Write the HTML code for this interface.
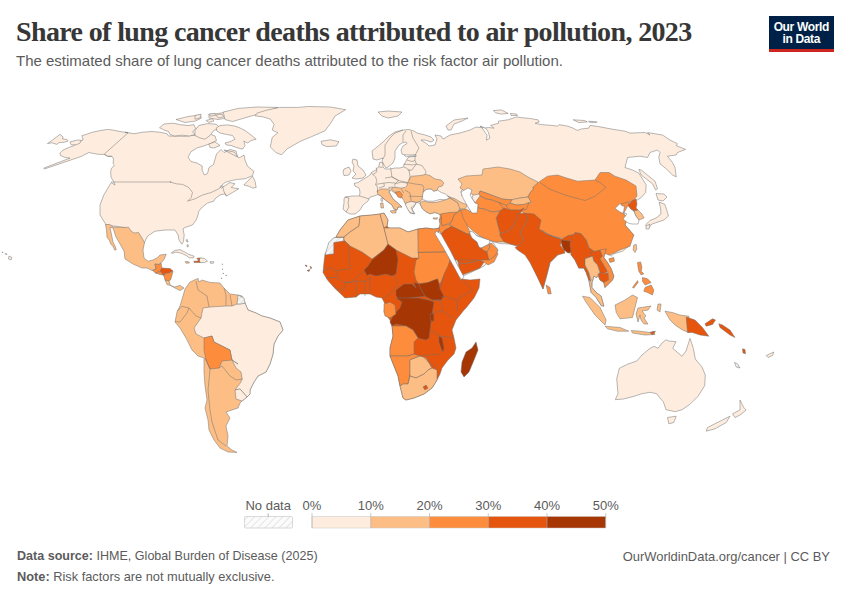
<!DOCTYPE html>
<html><head><meta charset="utf-8">
<style>
html,body{margin:0;padding:0;background:#fff;}
body{width:850px;height:600px;position:relative;overflow:hidden;font-family:"Liberation Sans",sans-serif;}
.t{position:absolute;white-space:nowrap;}
#title{left:16px;top:15.5px;font-family:"Liberation Serif",serif;font-weight:bold;font-size:28px;letter-spacing:-0.63px;color:#373737;}
#sub{left:16px;top:52px;font-size:15px;color:#5b5b5b;}
#logo{position:absolute;left:769px;top:16px;width:64.6px;height:35.6px;background:#002147;}
#logo .bar{position:absolute;left:0;bottom:0;width:64.6px;height:3px;background:#ce261e;}
#logo .lt{position:absolute;left:0;top:5px;width:64.6px;text-align:center;color:#fff;font-weight:bold;font-size:12px;line-height:12.2px;letter-spacing:-0.35px;}
.f{font-size:12px;color:#5b5b5b;}
.lg{font-size:13px;color:#5b5b5b;}
</style></head><body>
<div class="t" id="title">Share of lung cancer deaths attributed to air pollution, 2023</div>
<div class="t" id="sub">The estimated share of lung cancer deaths attributed to the risk factor air pollution.</div>
<div id="logo"><div class="lt">Our World<br>in Data</div><div class="bar"></div></div>
<svg style="position:absolute;left:0;top:0" width="850" height="600" viewBox="0 0 850 600">
<defs><pattern id="hatchm" patternUnits="userSpaceOnUse" width="4" height="4" patternTransform="rotate(45)"><rect width="4" height="4" fill="#f4f4f4"/><line x1="0" y1="0" x2="0" y2="4" stroke="#dcdcdc" stroke-width="1.5"/></pattern></defs>
<g stroke="#707070" stroke-width="0.5" stroke-linejoin="round">
<polygon fill="#feedde" points="128.1,132.8 120.0,131.5 112.5,130.0 107.5,129.4 100.0,130.6 92.5,132.2 86.2,134.4 81.9,135.6 83.1,140.0 78.8,141.9 73.8,145.6 68.8,147.5 63.1,150.0 60.0,153.1 60.6,155.6 65.0,157.5 70.0,158.1 43.8,168.1 44.4,169.0 72.5,159.4 81.2,156.5 88.8,152.5 93.8,153.5 98.8,154.4 104.0,154.4 107.5,156.0 111.9,156.2 113.5,158.8 113.1,163.8 114.4,165.0 111.2,168.8 110.6,172.5 111.2,177.5 113.8,181.9 115.0,185.0 111.2,182.5 103.8,195.0 100.0,205.0 100.0,215.0 106.2,225.0 115.0,226.2 125.0,227.5 128.8,232.5 136.2,236.2 143.8,243.8 147.5,236.2 155.0,231.2 165.0,230.0 175.0,230.0 178.2,235.0 179.0,240.0 181.8,244.2 183.5,241.5 184.2,235.0 183.0,228.8 185.0,227.5 192.5,225.0 196.2,220.0 198.0,215.0 198.8,211.2 202.5,206.9 207.5,203.1 213.8,201.2 215.0,198.8 220.0,195.0 225.0,193.8 226.2,196.2 232.5,192.5 238.8,188.8 231.2,187.5 235.0,183.8 230.0,182.5 221.2,188.1 220.0,186.9 225.0,182.5 231.2,180.6 237.5,179.4 245.0,178.8 252.5,175.6 253.8,171.2 247.5,166.2 245.0,160.0 244.0,155.0 239.0,158.0 234.0,152.0 224.0,150.0 237.5,157.0 236.0,151.0 230.0,149.5 224.0,152.5 221.0,149.5 216.5,154.0 213.5,164.5 209.0,167.5 207.5,173.5 204.5,175.0 202.2,170.5 202.2,166.0 197.0,163.0 191.0,161.5 188.0,157.0 191.0,151.7 197.0,148.0 204.5,145.7 210.5,143.5 216.5,140.5 215.0,136.0 207.5,133.0 203.0,135.2 198.5,134.8 185.0,136.3 168.5,136.0 167.0,133.7 159.5,132.2 152.0,131.5 143.0,132.2 134.0,133.7 125.0,132.2"/>
<polygon fill="#feedde" points="47.5,143.5 52.5,140.0 60.0,134.4 63.1,136.9 62.5,139.0 66.9,139.4 68.1,141.0 64.4,142.2 58.8,142.8 56.9,144.4 51.9,142.8"/>
<polygon fill="#feedde" points="70.0,141.9 77.5,140.0 81.2,140.2 80.0,143.1 76.2,144.8 71.2,144.8"/>
<polygon fill="#feedde" points="159.5,127.7 164.0,124.0 173.0,123.2 180.5,124.7 188.0,125.5 194.0,124.7 195.5,128.5 192.5,132.2 195.5,134.5 189.5,136.0 182.0,135.2 174.5,136.0 170.0,134.5 168.5,131.5 164.0,130.0"/>
<polygon fill="#feedde" points="197.0,127.7 201.5,125.5 207.5,124.7 209.0,127.7 206.0,130.7 200.0,131.5 198.5,133.0"/>
<polygon fill="#feedde" points="176.0,119.5 188.0,116.5 200.0,115.0 201.5,118.0 195.5,121.0 185.0,122.5"/>
<polygon fill="#feedde" points="209.0,114.2 218.0,113.5 227.0,112.0 230.0,115.0 227.0,118.0 218.0,119.5 209.0,118.0"/>
<polygon fill="#feedde" points="195.0,115.5 201.2,114.2 200.0,118.0 195.0,119.2"/>
<polygon fill="#feedde" points="206.2,120.5 212.5,118.6 213.8,121.1 208.8,122.4"/>
<polygon fill="#feedde" points="208.8,114.2 215.0,113.6 215.6,115.5 210.0,116.1"/>
<polygon fill="#feedde" points="216.2,114.9 221.9,114.2 223.8,116.8 218.1,118.0"/>
<polygon fill="#feedde" points="198.8,125.5 207.5,123.6 216.2,124.2 220.0,128.0 213.8,130.5 210.0,135.5 205.0,139.2 200.0,138.0 195.0,135.5 195.0,130.5"/>
<polygon fill="#feedde" points="208.8,144.2 215.0,141.8 220.0,145.5 213.8,148.0 210.0,147.4"/>
<polygon fill="#feedde" points="216.2,128.0 220.0,125.5 227.5,124.9 235.0,126.1 240.0,128.0 245.0,130.5 250.0,134.2 256.2,139.2 251.2,140.5 247.5,143.0 243.8,141.1 245.0,145.5 242.5,149.2 236.2,147.4 231.2,145.5 226.2,144.9 225.0,143.0 230.0,141.8 235.0,139.2 232.5,135.5 225.0,134.2 220.0,133.0 216.9,131.1"/>
<polygon fill="#feedde" points="223.2,112.1 238.3,108.4 257.1,107.0 277.8,107.4 266.5,112.1 251.5,115.9 242.1,118.7 232.6,121.5 225.1,119.6"/>
<polygon fill="#feedde" points="255.2,115.9 262.8,116.8 270.3,119.1 274.1,124.4 272.2,130.0 277.8,132.8 272.2,137.5 270.3,146.9 275.9,152.6 281.6,154.8 287.2,148.8 300.4,141.3 311.7,136.6 324.9,130.9 330.5,123.4 335.2,115.9 345.6,109.7 330.5,107.0 307.9,106.5 298.5,107.4 279.7,107.4 266.5,110.2 257.1,113.1"/>
<polygon fill="#feedde" points="321.1,141.3 330.5,139.8 339.0,141.7 336.2,146.0 326.8,146.6 322.1,144.7"/>
<polygon fill="#feedde" points="243.8,185.0 248.8,180.0 252.5,176.2 255.0,181.2 256.2,187.5 252.5,188.1 248.8,186.2"/>
<polygon fill="#fdbe85" points="105.5,224.5 110.0,224.5 113.0,227.0 124.0,227.5 128.5,227.2 131.0,231.0 134.0,233.0 138.5,232.5 142.0,238.0 144.5,242.5 143.0,250.0 144.0,258.0 148.0,261.2 153.0,260.0 157.5,257.5 160.0,255.0 166.2,254.2 164.0,259.5 161.5,262.5 159.0,264.5 155.0,264.0 156.0,269.0 152.0,270.5 147.0,268.0 142.0,268.0 133.0,264.0 125.0,259.0 124.0,251.0 120.0,244.0 116.0,237.0 113.0,228.0 110.0,227.5 112.0,237.0 113.0,242.0 115.0,246.0 116.2,249.8 114.8,250.2 112.8,246.2 110.8,244.0 109.2,240.0 107.0,237.5 106.5,230.0"/>
<polygon fill="#fd8d3c" points="155.0,264.0 159.0,264.5 161.0,263.0 162.0,268.0 160.5,271.0 158.0,272.0 155.5,273.0 152.5,270.5 156.0,269.0"/>
<polygon fill="#e6550d" points="160.0,271.0 162.0,268.0 170.0,268.5 173.0,271.0 169.0,273.0 165.0,273.5 164.0,276.0"/>
<polygon fill="#fd8d3c" points="155.5,273.0 158.0,272.0 160.5,271.5 163.0,275.0 160.0,274.5"/>
<polygon fill="#fd8d3c" points="164.0,276.2 165.2,273.5 169.0,273.0 173.0,271.2 171.8,276.0 170.5,280.0 168.0,281.5 165.0,280.0"/>
<polygon fill="#feedde" points="186.0,240.0 187.2,239.4 188.0,242.0 186.8,241.8"/>
<polygon fill="#feedde" points="187.2,244.6 188.4,245.0 188.0,247.0 187.0,246.6"/>
<polygon fill="#fdbe85" points="165.0,280.0 169.0,281.0 170.4,285.4 167.0,284.6"/>
<polygon fill="#fdbe85" points="170.4,285.4 174.4,287.0 180.0,285.4 184.0,288.0 180.0,290.6 176.0,288.6"/>
<polygon fill="#fdbe85" points="185.0,289.0 190.0,282.0 198.0,278.4 199.0,282.0 202.0,280.0 210.0,282.4 220.0,283.0 224.0,288.0 230.0,294.0 238.0,295.0 242.0,296.0 245.0,303.0 248.0,310.0 256.0,313.0 262.0,316.0 270.0,318.0 280.0,322.0 283.0,330.0 278.0,336.0 274.0,344.0 273.0,354.0 270.0,364.0 266.0,372.0 258.0,376.0 254.0,382.0 250.0,390.0 250.0,394.0 247.0,397.0 242.0,401.0 240.0,403.0 238.0,408.0 232.0,410.0 226.0,412.0 230.0,418.0 226.0,426.0 228.0,436.0 227.0,446.0 232.0,450.0 237.0,452.4 228.0,452.0 220.0,448.0 214.0,440.0 209.0,430.0 208.0,420.0 205.0,408.0 207.0,400.0 205.0,386.0 204.0,372.0 204.0,360.0 204.0,358.0 198.0,356.0 192.0,350.0 186.0,338.0 180.0,328.0 175.0,322.0 177.0,312.0 180.0,306.0 183.0,296.0"/>
<polygon fill="#feedde" points="241.0,303.6 245.0,303.0 248.0,310.0 256.0,313.0 262.0,316.0 270.0,318.0 280.0,322.0 283.0,330.0 278.0,336.0 274.0,344.0 273.0,354.0 270.0,364.0 266.0,372.0 258.0,376.0 254.0,382.0 250.0,390.0 250.0,394.0 247.0,397.0 240.0,389.0 235.0,390.0 241.0,382.0 242.0,378.0 241.0,372.0 236.0,368.0 232.0,360.0 238.0,364.0 232.0,360.0 230.0,350.0 222.0,346.0 214.0,342.0 212.0,336.0 204.0,338.0 196.0,334.0 194.0,328.0 201.0,318.0 203.0,308.0 210.0,307.0 226.0,306.0 232.0,306.0 237.0,304.0"/>
<polygon fill="#fd8d3c" points="204.0,338.0 212.0,336.0 214.0,342.0 222.0,346.0 230.0,350.0 232.0,360.0 222.0,361.0 219.0,368.0 210.0,369.0 206.0,360.0 204.0,350.0"/>
<polygon fill="#feedde" points="235.0,390.0 240.0,389.0 247.0,397.0 242.0,401.0 236.0,399.0"/>
<polygon fill="url(#hatchm)" points="238.0,295.0 244.0,298.0 245.0,303.0 241.0,304.0 237.0,304.0"/>
<polygon fill="#feedde" points="346.0,212.0 343.0,209.0 344.0,203.0 344.0,199.0 345.0,197.0 352.0,196.0 359.5,196.0 360.0,192.0 359.0,188.0 355.0,186.0 354.0,183.5 358.0,182.5 362.0,180.0 367.0,177.0 370.0,175.0 372.0,172.0 376.0,170.0 379.0,166.0 379.0,165.0 380.0,162.0 383.0,163.0 383.0,167.0 385.0,169.0 390.0,169.0 395.0,168.0 400.0,168.0 403.0,167.0 405.0,163.0 407.0,159.0 409.0,157.0 416.0,156.2 415.0,155.2 407.0,156.0 402.0,154.0 401.0,150.0 403.0,146.0 407.0,143.5 406.0,142.0 402.0,143.0 399.0,145.0 395.0,151.0 395.0,158.0 393.0,163.0 388.0,167.0 386.0,168.0 384.0,165.0 382.0,161.0 383.0,158.0 377.0,160.0 373.0,159.0 372.0,151.0 377.0,147.0 383.0,142.0 389.0,136.0 395.0,132.0 403.0,130.0 409.0,129.5 414.0,131.0 417.0,133.0 425.0,135.0 431.0,137.0 434.0,140.0 431.0,142.0 425.0,140.0 421.0,140.0 427.0,144.0 429.0,146.0 435.0,145.0 437.0,139.0 435.0,135.0 441.0,136.0 443.0,139.0 445.0,138.0 450.0,135.0 460.0,133.0 470.0,130.0 476.0,127.0 484.0,128.0 480.0,126.1 484.2,128.2 488.5,127.5 494.1,128.2 490.6,125.4 498.4,123.3 498.4,121.2 508.2,119.8 516.7,116.9 520.9,117.6 529.4,118.4 537.9,119.8 539.3,121.9 535.1,123.3 542.1,124.7 552.0,125.4 557.7,126.1 559.1,124.7 567.5,126.1 573.2,128.2 577.4,130.4 581.7,128.9 588.7,128.2 590.1,125.4 600.0,126.8 610.0,128.8 625.0,131.2 630.0,133.1 645.0,132.5 650.0,135.0 647.5,132.5 662.5,135.0 670.0,140.0 677.5,143.8 676.2,145.6 685.6,149.4 677.5,152.5 676.2,155.0 667.5,156.2 672.5,162.5 675.0,167.5 676.2,176.9 672.5,175.0 666.2,168.8 660.0,163.8 658.8,157.5 660.0,152.5 657.5,150.0 650.0,152.5 647.5,157.5 640.0,156.2 627.5,157.5 625.0,167.5 632.5,170.0 638.8,173.1 643.1,180.0 646.2,185.0 645.6,192.5 641.2,197.5 637.5,200.0 633.8,200.0 628.8,202.5 622.5,205.0 616.2,208.8 622.5,212.5 627.5,218.0 625.0,225.0 633.8,235.0 631.2,240.0 628.8,246.2 622.5,251.2 613.8,253.8 611.2,256.2 606.2,252.5 604.4,253.8 603.8,257.5 607.5,262.5 611.2,268.8 613.8,276.2 612.5,280.0 605.0,287.5 603.8,282.5 600.0,280.0 598.1,276.2 596.9,277.5 593.8,276.2 592.5,281.2 591.9,287.5 596.2,292.5 601.2,296.2 603.8,306.2 601.2,305.6 596.2,297.5 591.2,292.5 590.0,286.2 588.8,280.0 586.2,272.5 583.8,268.1 578.8,268.1 575.0,260.0 571.2,255.0 565.0,247.5 557.5,255.0 550.0,262.5 547.5,272.5 543.0,289.0 543.0,289.0 538.0,278.0 532.0,262.0 525.0,252.0 520.0,247.0 510.0,244.0 500.0,243.6 491.0,241.0 478.0,236.0 470.4,232.0 478.0,238.0 481.0,243.6 488.0,247.0 493.0,242.4 498.0,250.0 492.0,258.0 484.0,266.0 476.0,270.0 463.0,276.0 458.0,266.0 450.0,250.0 440.0,235.0 437.0,230.0 440.0,226.0 441.0,215.0 440.0,214.4 435.0,212.5 430.0,213.8 426.2,211.9 422.5,208.8 420.6,205.0 419.4,203.1 416.2,202.5 414.0,207.0 412.0,209.0 415.0,214.0 410.0,213.0 408.0,209.0 406.0,205.0 405.0,201.0 404.0,199.0 400.0,197.0 396.0,194.0 392.0,191.0 390.0,190.5 389.0,192.0 393.0,199.0 400.0,205.0 402.0,207.0 398.0,207.0 397.0,210.0 394.0,209.0 392.0,205.0 388.0,202.0 384.0,199.0 381.0,196.0 378.0,194.5 374.0,196.0 370.0,197.0 369.0,199.0 368.0,201.0 363.0,205.0 360.0,210.0 355.0,214.0 350.0,214.0"/>
<polygon fill="#ffffff" points="423.1,191.9 426.9,189.0 431.2,189.0 433.8,191.2 437.5,190.0 441.2,192.5 445.0,193.8 450.0,197.5 446.2,200.0 440.0,199.4 433.8,201.2 427.5,201.2 422.5,199.4 421.9,196.2"/>
<polygon fill="#ffffff" points="464.0,188.0 470.0,186.0 474.0,192.0 472.0,198.0 476.0,204.0 474.0,212.0 470.0,210.0 468.0,202.0 462.0,196.0 461.0,191.0"/>
<polygon fill="#feedde" points="353.0,159.0 357.0,160.0 358.0,166.0 363.0,170.0 366.0,175.0 363.0,178.0 356.0,179.0 352.0,178.0 356.0,174.0 353.0,171.0 354.0,166.0 352.0,162.0"/>
<polygon fill="#feedde" points="344.0,169.0 349.0,167.0 351.0,171.0 349.0,175.0 344.0,175.6 343.0,172.0"/>
<polygon fill="#feedde" points="378.0,112.0 388.0,111.0 402.0,112.0 398.0,116.0 388.0,118.0 382.0,116.0"/>
<polygon fill="#feedde" points="446.0,126.0 454.0,120.0 468.0,118.0 462.0,121.0 454.0,124.0 451.0,130.0 448.0,130.0"/>
<polygon fill="#fdbe85" points="458.0,179.0 466.0,176.0 482.0,175.0 483.0,169.0 498.0,167.0 510.0,169.0 520.0,172.0 528.0,177.0 538.0,182.0 534.0,188.0 530.0,193.0 528.0,197.0 520.0,198.0 512.0,200.0 502.0,199.0 494.0,196.0 486.0,193.0 480.0,191.0 479.0,194.0 474.0,195.0 466.0,192.0 460.0,188.0 462.0,184.0"/>
<polygon fill="#fd8d3c" points="532.5,187.5 540.0,181.2 547.5,176.2 557.5,175.0 565.0,177.5 577.5,181.2 595.0,180.0 600.0,172.5 609.0,172.5 615.0,176.2 626.0,180.0 636.0,186.0 637.0,196.0 633.8,200.0 628.8,202.5 622.5,205.0 616.2,208.8 622.5,212.5 627.5,218.0 625.0,225.0 633.8,235.0 630.0,246.2 620.0,250.0 612.5,253.8 608.8,255.0 600.0,251.2 595.0,252.5 588.8,247.5 586.2,240.0 581.2,233.8 575.0,232.5 572.5,235.0 565.0,238.8 552.5,236.2 540.0,230.0 527.5,220.0 528.0,218.0 524.0,213.0 520.0,210.0 524.0,208.0 531.0,202.0 528.0,197.0 530.0,193.0 534.0,188.0"/>
<polygon fill="#fdbe85" points="510.0,200.0 520.0,198.0 528.0,197.0 531.0,202.0 524.0,205.0 516.0,205.0 510.0,203.0"/>
<polygon fill="#fd8d3c" points="479.0,194.0 480.0,191.0 486.0,193.0 494.0,196.0 502.0,199.0 512.0,200.0 510.0,203.0 506.0,206.0 500.0,203.0 492.0,200.0 486.0,199.0 480.0,196.0"/>
<polygon fill="#fd8d3c" points="475.0,203.0 480.0,196.0 486.0,199.0 492.0,200.0 500.0,203.0 504.0,208.0 500.0,211.0 492.0,212.0 484.0,209.0 478.0,208.0"/>
<polygon fill="#fd8d3c" points="499.0,202.4 507.0,205.6 510.4,210.4 503.6,208.6"/>
<polygon fill="#fd8d3c" points="506.0,206.0 510.0,203.0 516.0,205.0 524.0,204.4 529.0,202.4 526.4,209.6 520.0,210.4 510.0,210.0"/>
<polygon fill="#e6550d" points="496.0,218.0 500.0,211.0 504.0,208.0 510.0,210.0 520.0,210.0 524.0,208.0 517.0,218.0 514.0,226.0 506.0,232.0 500.0,233.0 498.0,226.0"/>
<polygon fill="#e6550d" points="517.0,214.0 524.0,213.0 528.0,218.0 524.0,226.0 520.0,234.0 524.0,240.0 518.0,246.0 510.0,244.0 504.0,242.0 500.0,236.0 500.0,233.0 506.0,232.0 514.0,226.0 517.0,218.0"/>
<polygon fill="#fd8d3c" points="458.0,210.0 466.0,209.0 473.0,213.0 478.0,208.0 484.0,209.0 492.0,212.0 500.0,211.0 496.0,218.0 498.0,226.0 500.0,233.0 500.0,236.0 504.0,242.0 496.0,242.0 488.0,240.0 480.0,236.0 472.0,230.0 464.0,222.0 460.0,216.0"/>
<polygon fill="#fd8d3c" points="448.0,212.0 458.0,210.0 460.0,216.0 464.0,222.0 468.0,230.0 464.0,232.0 456.0,228.0 450.0,224.0 446.0,218.0"/>
<polygon fill="#fd8d3c" points="440.0,214.0 448.0,212.0 446.0,218.0 442.0,222.0 440.0,222.0"/>
<polygon fill="#e6550d" points="440.0,230.0 450.0,226.0 458.0,229.0 468.0,234.0 474.0,238.0 480.0,244.0 484.0,248.0 488.0,252.0 486.0,258.0 480.0,260.0 474.0,262.0 464.0,264.0 458.0,262.0 452.0,250.0 446.0,240.0"/>
<polygon fill="#e6550d" points="458.0,262.0 464.0,264.0 474.0,262.0 480.0,260.0 484.0,262.0 480.0,268.0 470.0,272.0 462.0,275.0 460.0,272.0"/>
<polygon fill="#fd8d3c" points="480.0,260.0 486.0,258.0 488.0,252.0 492.0,246.0 496.0,250.0 498.0,254.0 494.0,262.0 488.0,265.0 484.0,262.0"/>
<polygon fill="#e6550d" points="524.0,213.0 534.0,214.0 541.0,220.0 539.0,229.0 545.0,233.0 554.0,237.0 562.0,239.0 568.0,235.6 580.0,233.6 582.4,239.6 578.0,244.0 574.0,251.0 571.0,249.0 570.0,243.0 562.0,242.0 560.0,245.0 564.0,250.0 565.0,253.0 557.5,255.0 550.0,262.5 547.5,272.5 543.0,289.0 538.8,280.0 535.0,272.5 530.0,262.5 525.0,255.0 517.5,250.0 515.0,247.5 518.0,246.0 524.0,240.0 520.0,234.0 524.0,226.0 528.0,218.0"/>
<polygon fill="#a63603" points="561.0,240.0 570.0,241.0 571.0,248.0 573.0,252.0 568.0,253.0 564.0,250.0 562.0,246.0"/>
<polygon fill="#feedde" points="659.0,202.0 665.0,204.5 668.5,216.0 664.0,220.0 658.0,222.0 652.0,224.0 648.0,228.5 645.5,225.0 650.0,220.5 656.0,218.0 661.0,214.0 660.5,208.0"/>
<polygon fill="#feedde" points="646.0,226.0 650.0,224.0 649.0,229.0 646.0,229.0"/>
<polygon fill="#fdbe85" points="582.5,296.2 590.0,297.5 600.0,307.5 606.2,320.0 605.0,325.0 595.0,315.0 586.2,302.5"/>
<polygon fill="#fdbe85" points="605.0,326.2 620.0,327.5 628.8,331.2 617.5,331.2 607.5,328.8"/>
<polygon fill="#fdbe85" points="615.0,305.0 625.0,300.0 632.5,295.0 637.5,297.5 635.0,307.5 632.5,317.5 620.0,318.8 616.2,312.5"/>
<polygon fill="#fdbe85" points="638.0,308.0 651.0,306.0 648.0,310.0 642.0,311.0 646.0,316.0 644.0,318.0 648.0,324.0 644.0,324.0 641.0,320.0 640.0,315.0 638.0,322.0 636.0,314.0"/>
<polygon fill="#fdbe85" points="658.0,304.0 661.0,304.0 660.0,312.0 657.0,310.0"/>
<polygon fill="#fdbe85" points="631.2,330.5 640.0,331.2 650.0,332.5 653.8,331.2 655.0,334.5 645.0,335.0 632.5,333.0"/>
<polygon fill="#e6550d" points="650.0,332.5 655.5,331.2 652.5,335.0"/>
<polygon fill="#fd8d3c" points="546.2,285.0 550.0,287.5 551.2,293.8 548.0,293.8"/>
<polygon fill="#fdbe85" points="665.0,311.2 672.5,312.5 680.0,315.0 688.8,316.2 688.8,332.5 682.5,330.0 675.0,325.0 670.0,320.0"/>
<polygon fill="#e6550d" points="336.0,237.0 340.0,230.0 348.0,220.0 360.0,216.0 372.0,215.0 380.0,214.0 384.0,213.0 388.0,220.0 387.0,226.0 389.0,228.0 400.0,228.0 408.0,232.0 418.0,229.0 426.0,228.0 434.0,229.0 440.0,228.0 438.0,234.0 444.0,246.0 450.0,260.0 458.0,272.0 462.0,278.4 462.4,279.0 470.0,280.0 480.0,279.0 479.0,288.0 474.0,298.0 466.0,308.0 464.0,310.0 456.0,320.0 452.0,330.0 454.0,338.0 456.0,348.0 454.0,354.0 448.0,360.0 442.0,368.0 440.0,374.0 437.0,380.0 432.0,388.0 424.0,394.0 414.0,398.0 406.0,400.0 403.0,398.0 400.0,386.0 398.0,376.0 394.0,366.0 390.0,356.0 390.0,348.0 393.0,336.0 392.0,326.0 390.0,320.0 384.0,312.0 385.0,304.0 382.0,298.0 376.0,297.0 370.0,294.0 360.0,294.0 356.0,297.0 345.0,298.0 334.0,287.5 327.5,280.0 323.0,272.5 324.0,262.0 325.0,254.0 330.0,245.0"/>
<polygon fill="#fdbe85" points="336.0,237.0 340.0,230.0 348.0,220.0 360.0,216.0 359.0,226.0 350.0,232.0 344.0,237.0"/>
<polygon fill="url(#hatchm)" points="325.0,255.0 328.8,242.5 333.8,237.5 343.8,237.5 343.8,241.0 333.8,242.5 333.8,253.8"/>
<polygon fill="#fdbe85" points="344.0,237.0 350.0,232.0 359.0,226.0 360.0,216.0 372.0,215.0 380.0,214.0 384.0,228.0 386.0,236.0 388.0,244.0 384.0,250.0 372.0,259.0 362.0,252.0 350.0,246.0 344.0,240.0"/>
<polygon fill="#fdbe85" points="380.0,214.0 384.0,213.0 388.0,220.0 387.0,226.0 384.0,228.0"/>
<polygon fill="#fdbe85" points="384.0,228.0 389.0,228.0 400.0,228.0 408.0,232.0 418.0,229.0 419.0,258.0 412.0,258.0 396.0,250.0 388.0,244.0 386.0,236.0"/>
<polygon fill="#fd8d3c" points="418.0,229.0 426.0,228.0 434.0,229.0 440.0,228.0 438.0,234.0 444.0,246.0 447.0,252.0 418.0,252.4"/>
<polygon fill="#a63603" points="364.0,270.0 368.0,266.0 372.0,260.0 384.0,250.0 388.0,244.4 396.0,250.0 398.0,260.0 396.0,274.0 392.0,276.0 386.0,274.0 376.0,276.0 370.0,274.0 367.0,275.6"/>
<polygon fill="#fd8d3c" points="418.0,252.4 447.0,252.0 450.0,260.0 448.0,266.0 444.0,274.0 442.0,280.0 440.0,284.0 434.0,282.0 428.0,284.0 420.0,286.0 416.0,280.0 414.0,272.0 416.0,260.0 419.0,258.0"/>
<polygon fill="#a63603" points="418.8,283.8 427.5,282.5 437.5,278.8 438.8,282.5 440.0,288.8 443.8,296.2 441.2,300.0 432.5,300.0 425.0,296.2 420.0,287.5"/>
<polygon fill="#a63603" points="396.0,290.0 404.0,284.0 412.0,284.0 416.0,288.0 413.8,282.5 418.8,283.8 420.0,287.5 425.0,296.2 412.5,297.5 405.0,298.8 400.0,301.2 400.0,300.0 396.0,296.0"/>
<polygon fill="#a63603" points="396.0,298.0 406.0,298.0 418.0,298.0 428.0,300.0 434.0,302.0 432.0,314.0 430.0,330.0 429.0,338.0 426.0,340.0 418.0,338.0 413.0,330.0 406.0,326.0 396.0,324.0 392.0,326.0 390.0,322.0 394.0,314.0 400.0,308.0 402.0,302.0"/>
<polygon fill="#fd8d3c" points="384.0,304.0 390.0,302.0 395.0,305.0 396.0,314.0 390.0,318.0 385.0,316.0 384.0,312.0"/>
<polygon fill="#fd8d3c" points="392.0,326.0 406.0,326.0 413.0,330.0 418.0,338.0 414.0,342.0 414.0,354.0 408.0,356.0 390.0,356.0 390.0,348.0 393.0,336.0"/>
<polygon fill="#fd8d3c" points="390.0,356.0 408.0,356.0 414.0,354.0 420.0,356.0 410.0,360.0 410.0,374.0 408.0,384.0 403.0,384.0 400.0,386.0 398.0,376.0 394.0,366.0"/>
<polygon fill="#fdbe85" points="410.0,360.0 420.0,356.0 426.0,358.0 432.0,368.0 428.0,370.0 424.0,374.0 416.0,378.0 410.0,376.0 410.0,374.0"/>
<polygon fill="#fdbe85" points="400.0,386.0 403.0,384.0 408.0,384.0 410.0,376.0 416.0,378.0 424.0,374.0 428.0,370.0 432.0,368.0 437.0,370.0 437.0,380.0 432.0,388.0 424.0,394.0 414.0,398.0 406.0,400.0 403.0,398.0"/>
<polygon fill="#e6550d" points="423.0,387.0 426.0,385.0 428.0,388.0 425.0,390.0"/>
<polygon fill="#a63603" points="439.0,336.0 442.0,338.0 444.0,348.0 443.0,352.0 441.0,348.0 439.0,342.0"/>
<polygon fill="#a63603" points="476.0,342.0 478.0,350.0 474.0,360.0 469.0,372.0 464.0,377.0 461.0,372.0 462.0,362.0 466.0,352.0 472.0,348.0"/>
<polygon fill="#fdbe85" points="408.8,180.6 411.2,176.2 420.0,175.6 426.2,174.4 430.0,175.6 435.0,179.0 441.2,180.0 443.8,183.1 442.2,186.0 438.1,187.2 437.5,190.0 433.8,191.2 431.2,189.0 426.9,189.0 423.1,191.9 422.5,197.5 420.6,201.2 416.2,202.5 411.2,201.2 407.5,202.8 405.0,203.5 403.8,200.6 401.2,196.2 395.0,192.5 391.2,189.0 391.9,187.5 396.2,187.5 401.2,187.5 406.2,186.2 407.5,182.5"/>
<polygon fill="#feedde" points="395.0,183.8 401.2,182.2 406.2,182.8 407.5,185.0 405.0,187.5 401.2,188.1 396.2,187.5 394.4,185.6"/>
<polygon fill="#feedde" points="388.8,187.5 392.5,186.9 391.9,189.0 388.8,188.8"/>
<polygon fill="#feedde" points="406.2,202.8 411.2,201.5 416.2,202.5 413.8,206.2 411.2,207.5 413.8,213.8 410.0,212.5 407.5,208.8 405.6,205.0"/>
<polygon fill="#fd8d3c" points="395.5,192.0 400.0,191.5 402.5,195.0 401.0,198.0 398.0,197.0"/>
<polygon fill="#fdbe85" points="377.0,191.0 381.0,189.0 387.0,189.0 390.0,190.5 389.0,192.0 393.0,199.0 400.0,205.0 402.0,207.0 398.0,207.0 397.0,210.0 394.0,209.0 392.0,205.0 388.0,202.0 384.0,199.0 381.0,196.0 378.0,194.5"/>
<polygon fill="#fdbe85" points="390.0,211.0 396.0,210.0 396.0,213.0 392.0,213.0"/>
<polygon fill="#fdbe85" points="380.5,203.0 383.0,203.0 383.5,208.0 381.0,208.0"/>
<polygon fill="#feedde" points="381.0,198.0 383.0,198.0 382.5,201.5 381.0,201.0"/>
<polygon fill="#fdbe85" points="420.0,202.5 423.8,201.2 430.0,202.5 436.2,202.5 445.0,200.0 450.0,198.1 457.5,202.5 460.0,207.5 458.1,212.5 451.2,213.8 445.0,213.8 440.0,214.4 435.0,212.5 430.0,213.8 426.2,211.9 422.5,208.8 420.6,205.0"/>
<polygon fill="#fdbe85" points="447.5,196.2 455.0,198.8 461.2,202.5 467.5,205.0 465.0,208.8 460.0,208.8 457.5,202.5"/>
<polygon fill="#ffffff" points="461.0,192.0 468.0,188.0 472.0,190.0 470.0,195.0 473.0,200.0 475.0,203.0 478.0,204.0 477.0,213.0 472.0,213.0 468.0,207.0 464.0,200.0 462.0,196.0"/>
<polygon fill="#feedde" points="615.3,399.7 618.0,393.7 617.3,385.7 616.7,379.0 619.3,368.3 627.3,364.3 636.7,361.0 642.0,355.0 650.0,348.3 654.0,346.3 658.0,348.3 662.0,343.0 666.0,339.7 668.7,341.0 676.0,341.7 672.7,348.3 682.0,356.3 686.0,351.0 690.0,338.3 693.3,348.3 695.3,359.0 702.0,367.0 705.3,375.0 704.7,385.7 698.0,396.3 690.0,404.3 682.0,409.7 675.3,411.7 666.0,409.7 663.3,401.7 660.7,399.0 656.7,393.7 650.0,392.3 642.0,393.7 634.0,396.3 623.3,399.0"/>
<polygon fill="#feedde" points="667.5,417.5 676.2,416.2 673.8,422.5 668.8,423.8"/>
<polygon fill="#feedde" points="740.0,400.0 743.8,407.5 746.2,410.0 740.0,415.0 735.0,417.5 732.5,413.8 740.0,410.0"/>
<polygon fill="#feedde" points="730.0,416.2 726.2,422.5 715.0,428.8 706.2,431.2 707.5,427.5 720.0,421.2"/>
<polygon fill="#e6550d" points="686.2,317.0 695.0,320.0 702.5,327.5 708.8,336.2 700.0,335.0 692.5,332.5 687.5,332.5"/>
<polygon fill="#e6550d" points="705.0,323.8 712.5,318.8 715.5,320.0 712.5,324.5 706.2,326.2"/>
<polygon fill="#e6550d" points="718.8,323.8 722.5,325.0 730.0,330.0 735.0,337.5 730.0,335.0 720.0,327.5"/>
<polygon fill="#e6550d" points="742.5,348.8 745.0,349.5 745.5,353.8 743.0,353.0"/>
<polygon fill="#feedde" points="766.2,355.5 773.8,352.0 772.5,355.5 768.0,357.5"/>
<polygon fill="url(#hatchm)" points="734.5,362.5 737.5,363.8 740.0,368.0 736.2,367.0"/>
<polygon fill="#fd8d3c" points="441.0,214.0 449.0,212.5 458.0,212.0 454.0,215.0 452.0,221.0 448.0,224.0 442.5,226.0 441.0,222.0 441.5,218.0"/>
<polygon fill="#fd8d3c" points="454.0,215.0 458.0,212.0 461.0,210.0 463.0,218.0 467.0,225.0 469.0,230.0 470.0,234.0 467.0,234.0 463.0,232.0 457.0,229.0 449.0,225.0 452.0,221.0"/>
<polygon fill="#fd8d3c" points="439.0,219.0 441.5,218.0 441.0,222.0 442.5,226.0 448.0,224.0 452.0,226.5 445.0,230.0 441.0,234.0 439.0,230.0 440.0,224.0"/>
<polygon fill="#e6550d" points="441.0,234.0 445.0,230.0 452.0,226.5 457.0,229.0 463.0,232.0 467.0,234.0 470.0,234.0 472.0,238.0 477.0,242.0 479.0,247.0 483.0,250.0 487.0,252.0 489.0,260.0 455.0,260.0 450.0,250.0 445.0,245.0"/>
<polygon fill="#fd8d3c" points="481.0,248.0 489.0,244.0 490.0,247.0 487.0,252.0 483.0,250.0"/>
<polygon fill="#ffffff" points="470.0,231.0 473.0,232.0 477.0,236.0 483.0,238.0 489.0,240.0 490.0,241.0 489.0,244.0 481.0,248.0 479.0,247.0 477.0,242.0 472.0,238.0 470.0,234.0"/>
<polygon fill="#ffffff" points="436.0,231.0 441.0,234.0 450.0,250.0 458.0,266.0 464.0,277.0 461.0,280.0 454.0,267.0 444.0,249.0 435.0,234.0"/>
<polygon fill="#fdbe85" points="433.0,218.0 438.0,217.8 436.5,219.2 433.5,219.0"/>
<polygon fill="#fd8d3c" points="489.0,244.0 491.0,243.0 498.0,250.0 495.0,256.0 489.0,260.0 487.0,252.0 490.0,247.0"/>
<polygon fill="#feedde" points="493.4,110.6 501.2,109.9 508.2,113.4 501.2,114.1 495.5,112.7"/>
<polygon fill="#feedde" points="510.4,113.4 516.7,114.1 517.4,115.5 511.1,115.5"/>
<polygon fill="#feedde" points="573.2,119.8 584.5,120.5 587.3,121.9 578.8,122.6"/>
<polygon fill="#feedde" points="588.7,121.2 597.2,121.9 595.8,122.6 589.4,122.3"/>
<polygon fill="#ffffff" points="481.4,126.8 484.2,131.1 487.1,135.3 486.4,140.2 489.9,138.1 488.5,132.5 485.6,128.2"/>
<polygon fill="#feedde" points="9.0,256.0 12.0,257.5 11.0,260.0 8.5,259.0"/>
<polygon fill="#feedde" points="5.0,253.5 7.0,254.0 6.5,255.0"/>
<polygon fill="#feedde" points="2.0,252.0 3.0,252.5 2.5,253.0"/>
<polygon fill="#a63603" points="430.0,313.8 433.8,313.8 433.8,321.2 430.6,320.6"/>
<polygon fill="#feedde" points="638.8,169.4 641.2,170.0 655.0,181.2 657.5,188.8 655.6,190.0 652.5,183.8 641.2,175.0"/>
<polygon fill="#feedde" points="656.0,193.5 664.0,194.0 667.0,197.0 663.0,201.0 658.0,200.0"/>
<polygon fill="#e6550d" points="570.0,243.8 572.5,236.2 575.0,232.5 581.2,233.8 586.2,240.0 586.2,240.0 588.8,247.5 595.0,251.9 592.5,256.2 585.0,258.8 585.0,265.0 588.8,272.5 590.6,281.2 588.8,280.0 586.2,272.5 583.8,268.1 578.8,268.1 575.0,260.0 571.2,255.0"/>
<polygon fill="#e6550d" points="590.0,252.5 595.0,251.2 600.0,250.0 602.5,256.2 600.0,258.8 603.8,265.0 607.5,271.2 605.0,273.8 600.0,272.5 597.5,265.0 593.8,261.2 592.5,256.2"/>
<polygon fill="#fdbe85" points="585.0,258.8 592.5,256.2 593.8,261.2 597.5,265.0 600.0,272.5 598.1,274.4 596.9,277.5 593.8,276.2 592.5,281.2 591.2,280.0 588.8,272.5 585.0,265.0"/>
<polygon fill="#fdbe85" points="588.8,280.0 591.2,281.2 591.9,287.5 596.2,292.5 601.2,296.2 603.8,306.2 601.2,305.6 596.2,297.5 591.2,292.5 590.0,286.2"/>
<polygon fill="#e6550d" points="598.1,274.4 600.0,272.5 605.0,273.8 608.1,272.5 608.8,280.0 603.8,282.5 600.0,280.0"/>
<polygon fill="#fd8d3c" points="600.0,250.0 606.2,248.8 605.0,253.8 603.8,257.5 607.5,262.5 611.2,268.8 613.8,276.2 612.5,280.0 605.0,287.5 603.8,282.5 608.8,280.0 608.1,272.5 607.5,271.2 603.8,265.0 600.0,258.8 602.5,256.2"/>
<polygon fill="#fd8d3c" points="608.8,258.8 613.8,257.5 614.4,261.2 610.0,262.5"/>
<polygon fill="#fdbe85" points="633.8,245.0 636.2,244.4 636.9,248.8 635.0,252.5 633.1,250.0"/>
<polygon fill="#fd8d3c" points="637.5,262.5 640.6,261.9 641.9,267.5 641.2,271.2 643.8,273.8 641.2,275.0 638.8,271.2 638.1,267.5"/>
<polygon fill="#fd8d3c" points="642.5,277.5 647.5,278.8 651.2,282.5 645.0,285.0 642.5,281.2"/>
<polygon fill="#fd8d3c" points="645.0,287.5 651.2,285.0 653.8,290.0 652.5,295.0 647.5,292.5 643.8,291.2"/>
<polygon fill="#fd8d3c" points="632.5,287.5 637.5,280.6 638.1,282.5 633.8,288.1"/>
<polygon fill="#e6550d" points="305.0,265.0 307.0,265.5 306.5,267.0"/>
<polygon fill="#e6550d" points="310.0,266.5 311.5,267.0 311.0,269.0"/>
<polygon fill="#e6550d" points="307.0,270.5 310.0,269.5 309.0,271.5"/>
<polygon fill="#feedde" points="171.2,252.9 175.0,250.4 180.0,249.6 184.2,251.7 188.3,254.2 194.2,256.2 193.3,257.9 189.2,257.9 186.7,255.8 181.7,253.3 175.8,252.1 172.1,253.3"/>
<polygon fill="#feedde" points="200.0,257.9 204.2,258.3 207.5,261.2 204.2,262.5 200.0,262.5 199.2,260.0"/>
<polygon fill="#e6550d" points="196.7,258.3 200.0,257.9 199.2,260.0 200.0,262.5 194.2,262.5 193.8,261.2 198.3,261.0 197.9,259.6"/>
<polygon fill="#fdbe85" points="185.0,261.7 188.3,261.5 189.6,262.9 186.2,263.3"/>
<polygon fill="#feedde" points="210.0,261.7 213.8,261.8 213.3,263.2 210.4,263.3"/>
<polygon fill="#feedde" points="222.0,263.8 222.7,264.2 222.3,264.8"/>
<polygon fill="#feedde" points="222.2,268.8 222.8,269.2 222.5,269.8"/>
<polygon fill="#feedde" points="223.0,273.0 223.7,273.3 223.3,274.0"/>
<polygon fill="#feedde" points="221.3,278.0 222.0,278.3 221.7,279.0"/>
<polygon fill="#feedde" points="225.8,275.0 226.5,275.3 226.2,276.0"/>
<polygon fill="#fd8d3c" points="621.0,204.0 628.5,202.0 632.0,208.5 628.0,211.0 624.5,213.0 621.0,210.0"/>
<polygon fill="#ffffff" points="615.0,208.5 620.0,203.5 622.0,205.8 624.5,206.2 623.5,212.5 622.0,213.0 620.0,212.0"/>
<polygon fill="#ffffff" points="625.5,210.0 628.0,205.5 631.0,209.0 634.0,211.0 636.0,216.0 639.0,220.0 638.0,224.0 632.0,224.0 628.0,223.0 623.0,219.0 627.0,214.0 624.0,213.0"/>
<polygon fill="#e6550d" points="628.0,205.0 632.0,201.0 636.0,199.0 637.0,204.0 636.0,208.0 638.0,210.0 634.0,211.0 631.0,209.0"/>
<polygon fill="#fdbe85" points="634.0,211.0 638.0,210.0 642.0,214.0 644.0,218.0 639.0,220.0 636.0,216.0"/>
<polygon fill="#ffffff" points="404.5,154.8 410.0,155.0 416.0,154.9 416.2,155.9 410.0,156.2 406.5,156.8 405.0,156.0"/>
<polyline fill="none" points="128.1,132.8 104.4,154.0 107.5,156.5 111.9,156.5"/>
<polyline fill="none" points="111.2,182.0 171.2,182.0 170.0,181.9 176.2,183.8 182.5,184.4 188.8,187.5 192.5,192.5 191.2,197.5 187.5,201.2 195.0,198.8 202.5,195.0 211.2,192.5 218.8,188.8 222.5,185.6 223.8,191.2 226.2,195.6"/>
<polyline fill="none" points="177.0,311.0 182.0,306.4 189.0,308.0 187.0,313.0 180.0,322.0 175.0,321.6"/>
<polyline fill="none" points="189.0,308.0 196.0,316.0 201.0,318.0"/>
<polyline fill="none" points="196.0,281.0 198.0,290.0 207.0,296.0 209.0,307.0"/>
<polyline fill="none" points="224.0,288.0 226.0,295.0 226.0,306.0"/>
<polyline fill="none" points="230.0,295.0 232.0,306.0"/>
<polyline fill="none" points="205.0,358.0 210.0,369.0 210.0,370.0 208.0,390.0 210.0,410.0 212.0,422.0 218.0,440.0 226.0,446.0"/>
<polyline fill="none" points="219.0,368.0 222.0,366.0 230.0,376.0 236.0,380.0 243.0,379.0"/>
<polyline fill="none" points="540.0,182.5 548.8,188.8 565.0,195.0 585.0,200.5 595.0,196.2 606.2,187.5 600.0,182.5 595.0,180.0"/>
<polyline fill="none" points="542.0,230.0 548.0,235.0 560.0,238.4"/>
<polyline fill="none" points="430.0,330.0 440.0,336.0 454.0,338.0"/>
<polyline fill="none" points="420.0,356.0 440.0,354.0"/>
<polyline fill="none" points="424.0,358.0 436.0,368.0"/>
<polyline fill="none" points="407.5,182.5 413.8,183.8 422.5,185.0 423.8,187.5 423.1,191.9"/>
<polyline fill="none" points="408.8,196.2 422.5,196.5"/>
<polyline fill="none" points="405.0,190.0 410.0,193.1 411.2,200.6"/>
<polyline fill="none" points="401.2,188.8 403.8,193.1"/>
<polyline fill="none" points="359.5,196.0 363.0,197.0 369.0,199.0"/>
<polyline fill="none" points="345.0,197.0 349.0,198.0 348.0,203.0 349.0,207.0 346.0,212.0"/>
<polyline fill="none" points="371.2,173.1 375.6,176.9 376.9,181.2 375.6,184.4 377.5,187.5 377.5,192.5"/>
<polyline fill="none" points="375.6,184.4 383.8,183.1 384.4,186.2 378.8,188.1"/>
<polyline fill="none" points="376.2,167.5 376.9,171.9 373.1,174.4"/>
<polyline fill="none" points="390.6,167.5 391.9,176.9"/>
<polyline fill="none" points="385.0,178.1 391.9,176.9 398.8,180.6 395.6,183.1 388.8,182.5 383.8,183.1"/>
<polyline fill="none" points="391.9,176.9 398.8,180.6 407.5,182.5"/>
<polyline fill="none" points="408.8,168.8 410.0,176.2 408.8,180.6"/>
<polyline fill="none" points="378.8,166.9 382.5,167.5"/>
<polyline fill="none" points="403.0,130.0 395.0,133.0 390.0,138.0 385.0,145.0 385.0,155.0 383.0,159.0"/>
<polyline fill="none" points="406.0,131.0 403.0,135.0 403.0,142.0"/>
<polyline fill="none" points="411.0,131.0 413.0,138.0 419.0,148.0 415.0,155.5"/>
<polyline fill="none" points="343.8,241.0 348.8,244.4 350.0,268.8 336.2,270.6"/>
<polyline fill="none" points="323.1,271.2 330.0,267.5 336.2,270.6 336.2,277.5 326.2,277.5"/>
<polyline fill="none" points="336.2,277.5 345.0,282.5 343.8,290.0 337.5,290.0 333.8,285.0"/>
<polyline fill="none" points="345.0,282.5 351.2,282.5 356.2,277.5 363.8,271.2"/>
<polyline fill="none" points="356.2,281.2 356.2,297.5"/>
<polyline fill="none" points="345.0,282.5 356.2,281.2 365.0,281.2 371.2,277.5"/>
<polyline fill="none" points="365.0,281.2 365.0,296.2"/>
<polyline fill="none" points="370.0,277.5 370.0,293.8"/>
<polyline fill="none" points="395.0,275.0 397.5,285.0 390.0,293.8 382.5,298.8"/>
<polyline fill="none" points="432.5,300.0 441.2,300.0 442.5,311.2 432.5,312.5"/>
<polyline fill="none" points="442.5,311.2 453.8,318.8"/>
<polyline fill="none" points="441.2,297.5 443.8,296.2 456.2,300.0 472.5,290.0"/>
<polyline fill="none" points="440.0,288.8 443.8,276.2"/>
<polyline fill="none" points="460.0,277.5 472.5,290.0"/>
<polyline fill="none" points="457.5,300.0 457.5,311.2"/>
<polyline fill="none" points="407.0,160.0 412.0,161.5 415.0,160.5"/>
<polyline fill="none" points="403.5,164.2 409.0,164.5 412.5,165.0 416.5,164.2"/>
<polyline fill="none" points="415.0,156.0 415.0,160.5 416.5,164.2"/>
<polyline fill="none" points="416.5,164.2 414.0,167.0 412.0,170.0 408.5,170.5"/>
<polyline fill="none" points="416.5,164.2 422.0,165.5 426.0,171.5 425.0,174.5"/>
<polyline fill="none" points="403.5,167.0 406.5,168.0 408.5,170.5"/>
</g></svg><svg style="position:absolute;left:0;top:0" width="850" height="600" viewBox="0 0 850 600">
<defs><pattern id="hatch" patternUnits="userSpaceOnUse" width="5" height="5" patternTransform="rotate(45)"><rect width="5" height="5" fill="#fbfbfb"/><line x1="0" y1="0" x2="0" y2="5" stroke="#e2e2e2" stroke-width="1.8"/></pattern></defs>
<g font-family="Liberation Sans, sans-serif" font-size="13" fill="#5b5b5b" text-anchor="middle">
<text x="268.2" y="510">No data</text>
<text x="312" y="510">0%</text>
<text x="370.75" y="510">10%</text>
<text x="429.5" y="510">20%</text>
<text x="488.25" y="510">30%</text>
<text x="547" y="510">40%</text>
<text x="605.75" y="510">50%</text>
</g>
<rect x="244.5" y="516.5" width="48" height="11.5" rx="1" fill="url(#hatch)" stroke="#cfcfcf" stroke-width="0.8"/>
<line x1="268.2" y1="513.5" x2="268.2" y2="516.5" stroke="#999" stroke-width="0.8"/>
<rect x="312" y="516.5" width="58.75" height="11.5" fill="#feedde"/>
<rect x="370.75" y="516.5" width="58.75" height="11.5" fill="#fdbe85"/>
<rect x="429.5" y="516.5" width="58.75" height="11.5" fill="#fd8d3c"/>
<rect x="488.25" y="516.5" width="58.75" height="11.5" fill="#e6550d"/>
<rect x="547" y="516.5" width="58.75" height="11.5" fill="#a63603"/>
<rect x="312" y="516.5" width="293.75" height="11.5" fill="none" stroke="#c4c4c4" stroke-width="0.5"/>
<g stroke="#aaa" stroke-width="0.6">
<line x1="312" y1="513" x2="312" y2="528"/><line x1="370.75" y1="513" x2="370.75" y2="528"/><line x1="429.5" y1="513" x2="429.5" y2="528"/><line x1="488.25" y1="513" x2="488.25" y2="528"/><line x1="547" y1="513" x2="547" y2="528"/><line x1="605.75" y1="513" x2="605.75" y2="528"/>
</g>
</svg>

<div class="t f" style="left:17px;top:549px;font-size:12.55px;"><b>Data source:</b> IHME, Global Burden of Disease (2025)</div>
<div class="t f" style="left:17px;top:569px;font-size:12.8px;"><b>Note:</b> Risk factors are not mutually exclusive.</div>
<div class="t f" style="right:20px;top:549px;font-size:12.95px;">OurWorldinData.org/cancer | CC BY</div>
</body></html>
